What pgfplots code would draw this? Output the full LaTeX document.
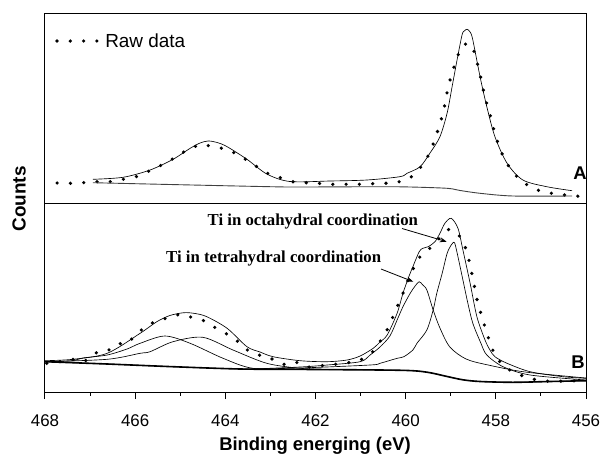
\documentclass[border=0pt]{standalone}
\usepackage{pgfplots}
\pgfplotsset{compat=1.18}
\usepackage{pgfplotstable}
\usepackage{fontspec}
\setmainfont{Liberation Sans}
\newfontfamily\serifbold{Liberation Serif}
\usetikzlibrary{arrows.meta}

% ---------- Panel A ----------
\pgfplotstableread{
x y
467.73 20.0
467.45 19.7
467.16 20.3
466.85 21.3
466.56 21.3
466.27 23.7
465.98 26.3
465.69 32.0
465.38 38.7
465.12 45.3
464.83 53.7
464.54 58.7
464.25 56.3
463.96 53.7
463.68 47.3
463.39 39.0
463.10 30.3
462.81 25.7
462.50 21.3
462.23 20.3
461.95 19.7
461.63 18.7
461.35 18.7
461.06 18.7
460.75 19.3
460.46 19.7
460.19 20.5
459.90 25.0
459.64 37.0
459.46 50.3
459.35 63.7
459.26 76.3
459.17 89.7
459.11 103.0
459.06 116.3
458.97 129.7
458.88 143.0
458.77 155.7
458.64 160.0
458.51 155.7
458.42 141.3
458.35 128.7
458.29 115.3
458.22 102.3
458.13 89.0
458.06 75.7
457.97 62.3
457.86 49.0
457.71 36.3
457.49 24.0
457.20 14.7
456.91 10.7
456.62 8.7
456.33 7.3
456.02 6.3
}\rawA

\pgfplotstableread{
x y
466.94 23.7
466.27 25.7
465.67 33.0
465.16 43.7
464.78 54.7
464.56 60.0
464.38 62.0
464.18 60.5
463.96 56.3
463.52 43.7
463.08 29.0
462.57 21.5
461.68 22.0
460.86 23.0
460.13 26.3
459.97 29.7
459.68 36.3
459.46 50.0
459.24 66.3
459.08 90.0
458.97 116.3
458.86 143.0
458.75 168.0
458.70 172.0
458.64 173.7
458.57 171.0
458.51 163.0
458.35 126.3
458.20 96.3
458.02 66.3
457.75 39.7
457.40 23.0
456.87 16.3
456.31 12.3
}\fitA

\pgfplotstableread{
x y
466.94 20.3
465.23 18.5
463.01 16.3
462.34 16.0
460.57 16.3
459.90 16.0
459.08 14.7
458.79 12.5
458.35 9.7
457.62 7.0
456.31 7.0
}\bgA

% ---------- Panel B ----------
\pgfplotstableread{
x y
467.96 28.7
467.71 30.0
467.40 32.7
467.13 30.3
466.89 39.0
466.62 40.7
466.40 48.3
466.18 48.3
465.96 58.3
465.72 67.3
465.47 71.7
465.27 74.2
465.01 77.8
464.74 74.7
464.47 71.2
464.23 64.5
463.96 57.8
463.76 52.0
463.54 42.7
463.28 37.0
463.08 36.0
462.85 30.0
462.63 26.7
462.41 29.5
462.17 24.8
461.86 26.3
461.57 27.7
461.28 29.2
460.99 32.2
460.72 40.7
460.50 55.0
460.35 67.3
460.24 80.3
460.10 93.7
459.99 107.0
459.86 120.7
459.73 133.2
459.50 142.0
459.22 155.3
459.04 162.8
458.88 159.8
458.75 153.0
458.64 140.3
458.57 127.0
458.51 113.7
458.46 102.0
458.40 88.7
458.31 75.3
458.22 62.0
458.13 49.3
458.02 36.5
457.82 25.3
457.57 19.0
457.31 14.5
457.02 11.2
456.73 10.5
456.42 11.0
456.16 11.3
456.00 11.0
}\rawB

\pgfplotstableread{
x y
468.00 31.3
467.38 32.7
466.62 38.7
465.89 58.7
465.52 70.3
465.23 76.5
464.92 79.3
464.67 78.5
464.41 75.3
463.96 63.7
463.52 45.3
463.23 40.0
462.94 35.3
462.34 31.3
461.74 30.3
461.30 32.0
461.01 36.0
460.72 43.7
460.57 50.0
460.41 57.0
460.19 78.7
460.06 98.7
459.93 115.3
459.84 125.3
459.70 140.3
459.62 143.7
459.50 145.3
459.35 150.3
459.24 158.7
459.13 168.7
458.99 173.7
458.84 163.7
458.73 142.0
458.57 108.7
458.42 75.3
458.24 52.0
458.13 42.0
458.02 35.3
457.75 28.7
457.24 20.3
456.51 15.3
456.00 13.7
}\envB

\pgfplotstableread{
x y
463.67 22.5
462.34 25.0
461.74 27.0
461.01 30.3
460.79 37.0
460.57 45.0
460.35 56.0
460.19 72.0
460.06 85.3
459.90 98.7
459.79 106.0
459.70 110.3
459.62 107.0
459.53 102.0
459.39 82.0
459.24 64.0
459.02 45.0
458.66 33.0
458.17 27.0
457.35 20.0
456.00 14.0
}\tetB

\pgfplotstableread{
x y
463.67 22.7
462.34 24.0
460.79 27.0
460.57 28.7
460.19 33.7
460.04 35.3
459.84 42.0
459.75 48.7
459.53 62.0
459.39 82.0
459.31 98.7
459.19 118.7
459.08 138.7
458.99 147.0
458.95 149.3
458.91 148.7
458.84 135.3
458.73 112.0
458.62 88.7
458.51 68.7
458.33 48.7
458.20 37.0
457.84 25.3
457.24 17.0
456.00 12.0
}\octB

\pgfplotstableread{
x y
468.00 30.3
467.38 31.3
467.16 34.0
466.62 37.0
466.18 43.0
465.89 48.7
465.34 56.0
464.78 48.7
464.05 33.7
463.39 23.7
462.34 22.5
}\tetBb

\pgfplotstableread{
x y
468.00 30.3
466.62 32.7
465.89 38.7
465.67 40.3
465.16 50.3
464.50 54.7
463.83 42.0
463.08 28.7
462.34 23.7
461.68 22.5
}\octBb

\pgfplotstableread{
x y
468.00 30.3
466.62 28.0
465.16 25.3
463.67 23.0
462.34 22.6
460.57 22.0
459.84 21.3
459.46 19.3
459.08 15.5
458.73 12.2
458.35 10.5
457.62 9.7
456.80 10.5
456.00 11.3
}\bgB

\pgfplotsset{
  panel/.style={width=541bp, scale only axis, xmin=456, xmax=468, x dir=reverse,
    ytick=\empty, axis line style={line width=1bp, black}},
  raw/.style={black, line width=3.6bp, line cap=round, dash pattern=on 0bp off 13.3bp},
  fit/.style={black, line width=0.65bp, smooth, tension=0.5},
}

\begin{document}
\begin{tikzpicture}
\path[use as bounding box] (0,0) rectangle (603bp,-454bp);

% top panel A
\begin{axis}[panel, anchor=south west, at={(45bp,-203bp)}, height=190bp,
  ymin=0, ymax=190, xtick=\empty,
  legend style={at={(axis description cs:0.0185,0.8526)}, anchor=west,
    draw=none, fill=none, inner sep=0pt, column sep=6bp,
    nodes={inner sep=0pt, text depth=0pt, font=\fontsize{19}{19}\selectfont}},
  legend image code/.code={\draw[#1] (0bp,0bp) -- (40.5bp,0bp);}]
\addplot[raw] table {\rawA};
\addlegendentry{Raw data}
\addplot[fit, forget plot] table {\fitA};
\addplot[black!75, line width=0.9bp, smooth, tension=0.5, forget plot] table {\bgA};
\end{axis}

% bottom panel B
\begin{axis}[panel, anchor=north west, at={(45bp,-203bp)}, height=189bp,
  ymin=0, ymax=189,
  xtick={456,458,460,462,464,466,468},
  minor xtick={457,459,461,463,465,467},
  tick align=outside, xtick pos=left,
  major tick length=7bp, minor tick length=3.7bp,
  every tick/.style={black, line width=1bp},
  /pgf/number format/assume math mode=true,
  tick label style={font=\fontsize{17}{17}\selectfont},
  xticklabel style={anchor=center, inner sep=0pt, yshift=-21.7bp}]
\addplot[black!60, line width=0.8bp, smooth, tension=0.5] table {\bgB};
\addplot[black, line width=1.6bp, smooth, tension=0.5] table {\bgB};
\addplot[fit] table {\tetBb};
\addplot[fit] table {\octBb};
\addplot[fit] table {\tetB};
\addplot[fit] table {\octB};
\addplot[fit] table {\envB};
\addplot[raw] table {\rawB};
\end{axis}

% labels
\node[rotate=90, inner sep=0pt, font=\bfseries\fontsize{19}{19}\selectfont] at (19bp,-199bp) {Counts};
\node[anchor=base, inner sep=0pt, font=\bfseries\fontsize{18.5}{18.5}\selectfont] at (315bp,-450bp) {Binding energing (eV)};
\node[inner sep=0pt, font=\bfseries\fontsize{18.5}{18.5}\selectfont] at (580bp,-173.5bp) {A};
\node[inner sep=0pt, font=\bfseries\fontsize{18.5}{18.5}\selectfont] at (578bp,-361.7bp) {B};

\node[anchor=base west, inner sep=0pt, font=\serifbold\bfseries\fontsize{16.8}{16.8}\selectfont] at (207.5bp,-225.7bp) {Ti in octahydral coordination};
\node[anchor=base west, inner sep=0pt, font=\serifbold\bfseries\fontsize{16.8}{16.8}\selectfont] at (166bp,-262.3bp) {Ti in tetrahydral coordination};
\draw[-{Stealth[length=7bp,width=5bp]}, line width=0.8bp] (402bp,-228.5bp) -- (446.7bp,-241.7bp);
\draw[-{Stealth[length=7bp,width=5bp]}, line width=0.8bp] (381bp,-269bp) -- (413.3bp,-281.7bp);
\end{tikzpicture}
\end{document}
